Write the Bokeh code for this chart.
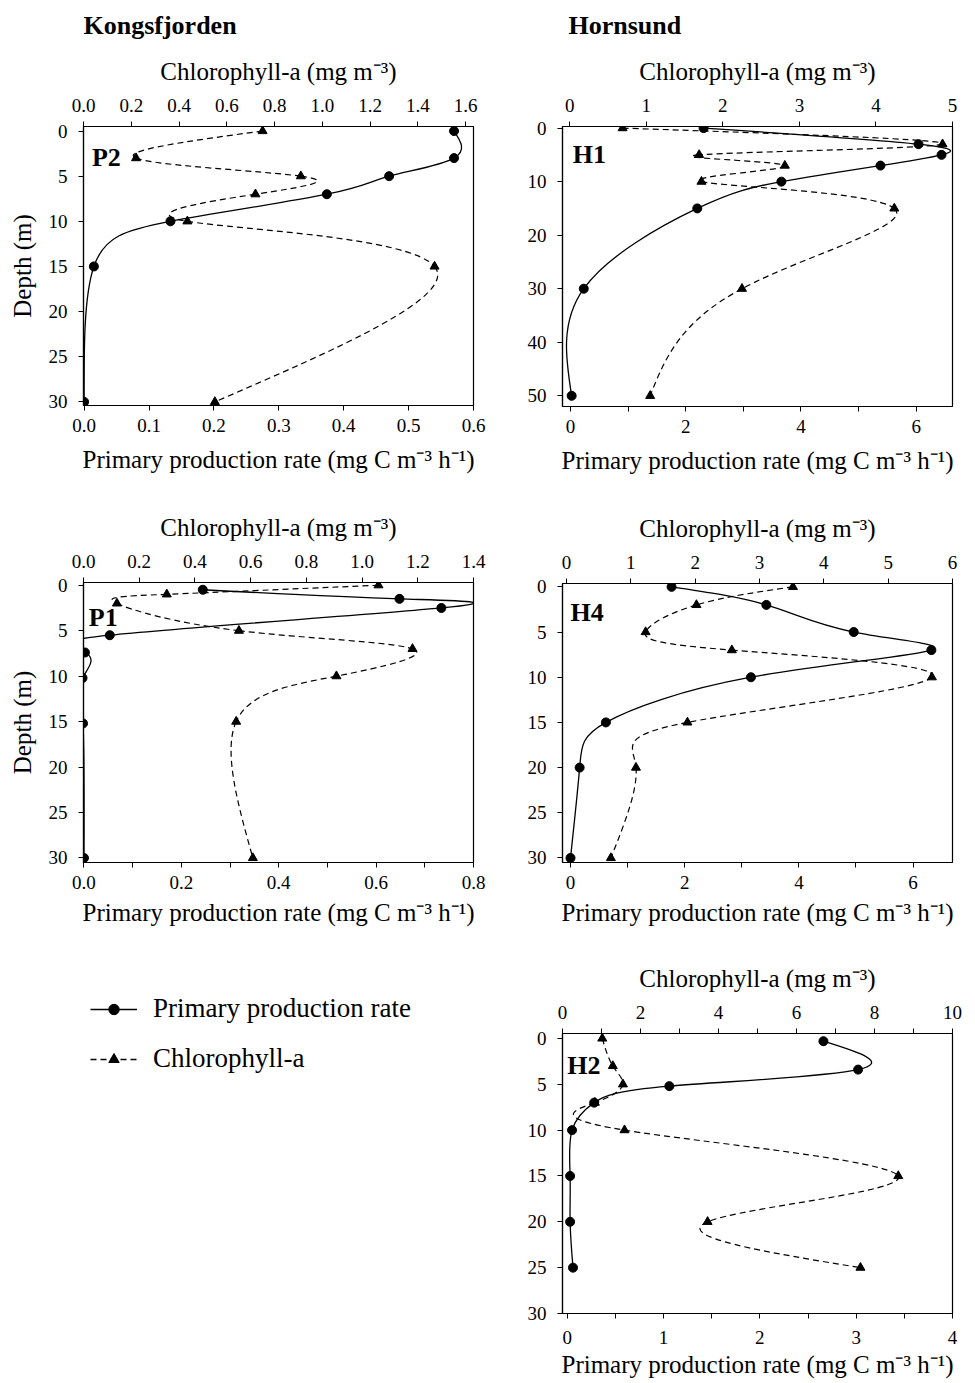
import numpy as np
from bokeh.plotting import figure
from bokeh.models import (Range1d, LinearAxis, FixedTicker, PrintfTickFormatter,
                          Legend, LegendItem, ColumnDataSource)
from bokeh.layouts import column, row
from bokeh.embed import file_html
from bokeh.resources import INLINE
from bokeh.core.properties import value

FONT = "Liberation Serif"

# ---------------- data ----------------
# Kongsfjorden P2
p2_pp_depth = [0, 3, 5, 7, 10, 15, 30]
p2_pp = [0.570, 0.570, 0.470, 0.374, 0.133, 0.015, 0.000]
p2_chl_depth = [0, 3, 5, 7, 10, 15, 30]
p2_chl = [0.75, 0.22, 0.91, 0.72, 0.435, 1.47, 0.55]

# Hornsund H1
h1_pp_depth = [0, 3, 5, 7, 10, 15, 30, 50]
h1_pp = [2.31, 6.04, 6.44, 5.38, 3.66, 2.20, 0.23, 0.02]
h1_chl_depth = [0, 3, 5, 7, 10, 15, 30, 50]
h1_chl = [0.69, 4.87, 1.69, 2.81, 1.72, 4.24, 2.25, 1.05]

# Kongsfjorden P1
p1_pp_depth = [0.5, 1.5, 2.5, 5.5, 7.4, 10.2, 15.2, 30]
p1_pp = [0.244, 0.648, 0.734, 0.053, 0.002, -0.003, -0.002, 0.0]
p1_chl_depth = [0, 1, 2, 5, 7, 10, 15, 30]
p1_chl = [1.059, 0.299, 0.12, 0.558, 1.181, 0.908, 0.548, 0.608]

# Hornsund H4
h4_pp_depth = [0, 2, 5, 7, 10, 15, 20, 30]
h4_pp = [1.77, 3.43, 4.96, 6.32, 3.16, 0.62, 0.16, 0.0]
h4_chl_depth = [0, 2, 5, 7, 10, 15, 20, 30]
h4_chl = [3.52, 2.02, 1.23, 2.57, 5.68, 1.88, 1.08, 0.69]

# Hornsund H2
h2_pp_depth = [0.3, 3.4, 5.2, 7, 10, 15, 20, 25]
h2_pp = [2.66, 3.02, 1.06, 0.28, 0.05, 0.03, 0.03, 0.06]
h2_chl_depth = [0, 3, 5, 7, 10, 15, 20, 25]
h2_chl = [1.02, 1.29, 1.55, 0.83, 1.59, 8.61, 3.72, 7.64]

region_titles = ["Kongsfjorden", "Hornsund"]
legend_labels = ["Primary production rate", "Chlorophyll-a"]

PP_LABEL = "Primary production rate (mg C m\u207b\u00b3 h\u207b\u00b9)"
CHL_LABEL = "Chlorophyll-a (mg m\u207b\u00b3)"
DEPTH_LABEL = "Depth (m)"


def _natural_derivs(v):
    """End derivatives of a natural cubic spline through v (parameter = point index)."""
    v = np.asarray(v, dtype=float)
    n = len(v)
    M = np.zeros(n)
    if n > 2:
        A = np.zeros((n - 2, n - 2))
        for i in range(n - 2):
            A[i, i] = 4.0
            if i > 0:
                A[i, i - 1] = 1.0
            if i < n - 3:
                A[i, i + 1] = 1.0
        d = 6.0 * (v[2:] - 2 * v[1:-1] + v[:-2])
        M[1:-1] = np.linalg.solve(A, d)
    dv = v[1:] - v[:-1]
    start = dv - (2 * M[:-1] + M[1:]) / 6.0
    end = dv + (M[:-1] + 2 * M[1:]) / 6.0
    return start, end


def bezier_segments(xs, ys):
    """Smooth spline through the measured points, expressed as cubic Bezier segments."""
    xs = np.asarray(xs, dtype=float)
    ys = np.asarray(ys, dtype=float)
    sx, ex = _natural_derivs(xs)
    sy, ey = _natural_derivs(ys)
    return ColumnDataSource(dict(x0=xs[:-1], y0=ys[:-1], x1=xs[1:], y1=ys[1:],
                                 cx0=xs[:-1] + sx / 3.0, cy0=ys[:-1] + sy / 3.0,
                                 cx1=xs[1:] - ex / 3.0, cy1=ys[1:] - ey / 3.0))


def style_axis(ax, ticks, minor, fmt, tick_standoff, label_standoff, label=None):
    ax.ticker = FixedTicker(ticks=ticks, minor_ticks=minor)
    ax.formatter = PrintfTickFormatter(format=fmt)
    ax.major_label_text_font = FONT
    ax.major_label_text_font_size = "19px"
    ax.major_label_text_color = "black"
    ax.major_label_standoff = tick_standoff
    ax.major_tick_in = 0
    ax.major_tick_out = 5
    ax.minor_tick_in = 0
    ax.minor_tick_out = 5
    ax.major_tick_line_color = "black"
    ax.minor_tick_line_color = "black"
    ax.axis_line_color = "black"
    ax.axis_line_width = 1.2
    if label is not None:
        ax.axis_label = label
        ax.axis_label_text_font = FONT
        ax.axis_label_text_font_size = "25px"
        ax.axis_label_text_font_style = "normal"
        ax.axis_label_text_color = "black"
        ax.axis_label_standoff = label_standoff


def blank_fig(w, h, bl, br, bt, bb, xr, yr):
    f = figure(width=w, height=h, x_range=Range1d(*xr), y_range=Range1d(*yr),
               output_backend="svg", toolbar_location=None,
               min_border_left=bl, min_border_right=br, min_border_top=bt, min_border_bottom=bb)
    f.axis.visible = False
    f.grid.visible = False
    f.outline_line_color = None
    return f


def panel(name, pp_d, pp_v, chl_d, chl_v, pp_range, chl_range, depth_range,
          pp_ticks, pp_fmt, chl_ticks, chl_fmt, depth_ticks,
          label_xy, geom, ylabel, bottom_standoffs=(8, 11)):
    w, h, bl, br, bt, bb = geom
    p = figure(width=w, height=h, x_range=Range1d(*pp_range),
               y_range=Range1d(depth_range[1], depth_range[0]),
               output_backend="svg", toolbar_location=None,
               min_border_left=bl, min_border_right=br,
               min_border_top=bt, min_border_bottom=bb)
    p.extra_x_ranges = {"chl": Range1d(*chl_range)}
    p.grid.visible = False
    p.outline_line_color = "black"
    p.outline_line_width = 1.2
    p.background_fill_color = "white"
    p.border_fill_color = "white"

    style_axis(p.xaxis[0], pp_ticks[0], pp_ticks[1], pp_fmt,
               bottom_standoffs[0], bottom_standoffs[1], PP_LABEL)
    style_axis(p.yaxis[0], depth_ticks, [], "%d", 11, 10, ylabel)
    top = LinearAxis(x_range_name="chl")
    style_axis(top, chl_ticks[0], chl_ticks[1], chl_fmt, 10, 11, CHL_LABEL)
    p.add_layout(top, "above")

    # chlorophyll-a (dashed, triangles)
    p.bezier(x0="x0", y0="y0", x1="x1", y1="y1", cx0="cx0", cy0="cy0", cx1="cx1", cy1="cy1",
             source=bezier_segments(chl_v, chl_d), x_range_name="chl",
             line_color="black", line_width=1.2, line_dash="6 4")
    p.scatter(chl_v, chl_d, marker="triangle", size=9, color="black", x_range_name="chl")
    # primary production (solid, circles)
    p.bezier(x0="x0", y0="y0", x1="x1", y1="y1", cx0="cx0", cy0="cy0", cx1="cx1", cy1="cy1",
             source=bezier_segments(pp_v, pp_d),
             line_color="black", line_width=1.3)
    p.scatter(pp_v, pp_d, marker="circle", size=9, color="black")

    p.text(x=[label_xy[0]], y=[label_xy[1]], text=[name], text_font=value(FONT),
           text_font_style="bold", text_font_size="26px", text_color="black",
           text_baseline="alphabetic", text_align="left")
    return p


# ---------------- column borders ----------------
LB, LR = 83, 15          # left column frames: x = 83 .. 473
RB, RR = 74, 15          # right column frames: x = 562 .. 952

# ---------------- left column ----------------
t_left = blank_fig(488, 44, LB, LR, 0, 0, (0, 390), (0, 44))
t_left.text(x=[0], y=[19], text=[region_titles[0]], text_font=value(FONT),
            text_font_style="bold", text_font_size="26px", text_color="black",
            text_baseline="middle", text_align="left")

p2 = panel("P2", p2_pp_depth, p2_pp, p2_chl_depth, p2_chl,
           (-0.001, 0.6), (0.0, 1.633), (-0.5, 30.4),
           ([0, 0.1, 0.2, 0.3, 0.4, 0.5, 0.6], []), "%.1f",
           ([0, 0.2, 0.4, 0.6, 0.8, 1.0, 1.2, 1.4, 1.6], []), "%.1f",
           [0, 5, 10, 15, 20, 25, 30], (0.012, 2.9),
           (488, 446, LB, LR, 82, 85), DEPTH_LABEL)

p1 = panel("P1", p1_pp_depth, p1_pp, p1_chl_depth, p1_chl,
           (-0.001, 0.8), (0.0, 1.4), (-0.3, 30.5),
           ([0, 0.2, 0.4, 0.6, 0.8], [0.1, 0.3, 0.5, 0.7]), "%.1f",
           ([0, 0.2, 0.4, 0.6, 0.8, 1.0, 1.2, 1.4], []), "%.1f",
           [0, 5, 10, 15, 20, 25, 30], (0.010, 3.55),
           (488, 450, LB, LR, 92, 78), DEPTH_LABEL, bottom_standoffs=(8, 7))

# legend figure: frame from y = 980 to 1383 on the page
leg = blank_fig(488, 443, LB, LR, 40, 0, (0, 1), (0, 1))


def _nan_src():
    return ColumnDataSource(dict(x=np.array([np.nan]), y=np.array([np.nan])))


l1 = leg.line(x="x", y="y", source=_nan_src(), line_color="black", line_width=1.5)
s1 = leg.scatter(x="x", y="y", source=_nan_src(), marker="circle", size=10, color="black")
l2 = leg.line(x="x", y="y", source=_nan_src(), line_color="black", line_width=1.5,
              line_dash="6 4")
s2 = leg.scatter(x="x", y="y", source=_nan_src(), marker="triangle", size=10, color="black")
legend = Legend(items=[LegendItem(label=legend_labels[0], renderers=[l1, s1]),
                       LegendItem(label=legend_labels[1], renderers=[l2, s2])],
                location=(7, 309), orientation="vertical",
                label_text_font=FONT, label_text_font_size="27px", label_text_color="black",
                glyph_width=47, glyph_height=26, label_height=30, label_standoff=16,
                spacing=19, padding=0, margin=0,
                border_line_color=None, background_fill_alpha=0)
leg.add_layout(legend)

# ---------------- right column ----------------
t_right = blank_fig(479, 44, RB, RR, 0, 0, (0, 390), (0, 44))
t_right.text(x=[6], y=[19], text=[region_titles[1]], text_font=value(FONT),
             text_font_style="bold", text_font_size="26px", text_color="black",
             text_baseline="middle", text_align="left")

h1 = panel("H1", h1_pp_depth, h1_pp, h1_chl_depth, h1_chl,
           (-0.139, 6.63), (-0.095, 5.0), (-0.3, 52.0),
           ([0, 2, 4, 6], [1, 3, 5]), "%d",
           ([0, 1, 2, 3, 4, 5], []), "%d",
           [0, 10, 20, 30, 40, 50], (0.04, 4.9),
           (479, 446, RB, RR, 82, 84), None)

h4 = panel("H4", h4_pp_depth, h4_pp, h4_chl_depth, h4_chl,
           (-0.14, 6.69), (-0.062, 6.0), (-0.37, 30.5),
           ([0, 2, 4, 6], [1, 3, 5]), "%d",
           ([0, 1, 2, 3, 4, 5, 6], []), "%d",
           [0, 5, 10, 15, 20, 25, 30], (0.0, 2.85),
           (479, 450, RB, RR, 93, 78), None, bottom_standoffs=(8, 7))

h2 = panel("H2", h2_pp_depth, h2_pp, h2_chl_depth, h2_chl,
           (-0.049, 4.0), (0.0, 10.0), (-0.54, 30.0),
           ([0, 1, 2, 3, 4], [0.5, 1.5, 2.5, 3.5]), "%d",
           ([0, 2, 4, 6, 8, 10], [1, 3, 5, 7, 9]), "%d",
           [0, 5, 10, 15, 20, 25, 30], (0.0, 3.0),
           (479, 443, RB, RR, 93, 70), None, bottom_standoffs=(12, 4))

layout = row(column(t_left, p2, p1, leg), column(t_right, h1, h4, h2))
open("out.html", "w").write(file_html(layout, INLINE))
